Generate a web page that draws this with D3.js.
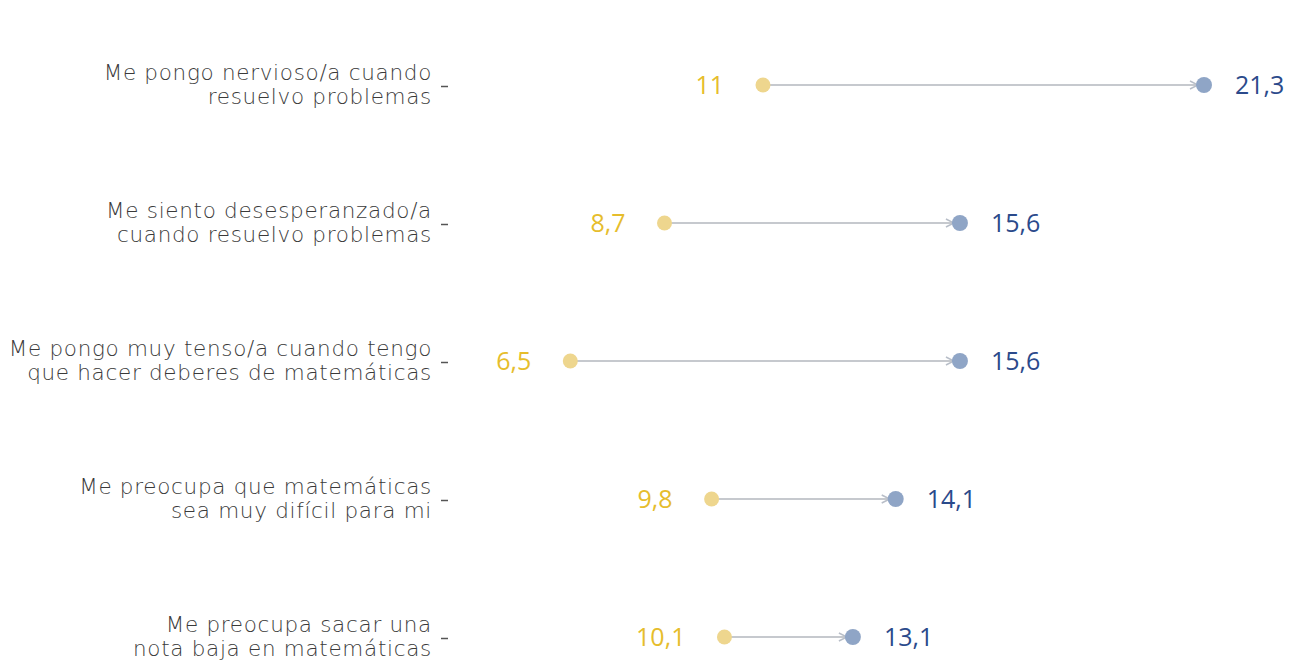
<!DOCTYPE html>
<html><head><meta charset="utf-8">
<script src="https://cdn.jsdelivr.net/npm/d3@7"></script>
<style>body{margin:0;background:#fff;} text{font-family:"Open Sans",sans-serif;}</style>
</head><body>
<svg id="c" width="1298" height="671"></svg>
<script>
const categories = [
  ["Me pongo nervioso/a cuando", "resuelvo problemas"],
  ["Me siento desesperanzado/a", "cuando resuelvo problemas"],
  ["Me pongo muy tenso/a cuando tengo", "que hacer deberes de matemáticas"],
  ["Me preocupa que matemáticas", "sea muy difícil para mi"],
  ["Me preocupa sacar una", "nota baja en matemáticas"]
];
const startValues = [11, 8.7, 6.5, 9.8, 10.1];
const endValues = [21.3, 15.6, 15.6, 14.1, 13.1];
const startLabels = ["11", "8,7", "6,5", "9,8", "10,1"];
const endLabels = ["21,3", "15,6", "15,6", "14,1", "13,1"];

const svg = d3.select("#c");
const x = d3.scaleLinear().domain([0, 21.3]).range([292, 1204]);
const ids = categories.map((d, i) => i);
const y = d3.scalePoint().domain(ids).range([85, 637]);

svg.append("defs").append("marker")
  .attr("id", "arr").attr("viewBox", "0 0 10 10").attr("refX", 9).attr("refY", 5)
  .attr("markerWidth", 10).attr("markerHeight", 10).attr("markerUnits", "userSpaceOnUse")
  .attr("orient", "auto")
  .append("path").attr("d", "M1,1 L9,5 L1,9").attr("fill", "none").attr("stroke", "#b8bec8").attr("stroke-width", 1.5);

// axis with labels
const axis = d3.axisLeft(y).tickSize(7).tickPadding(8).tickFormat(() => "");
const gAxis = svg.append("g").attr("transform", "translate(448,1)").call(axis);
gAxis.select(".domain").remove();
gAxis.selectAll(".tick line").attr("stroke", "#555").attr("stroke-width", 1.5);
gAxis.selectAll(".tick").each(function(d) {
  const t = d3.select(this).select("text")
    .attr("x", -16).attr("y", 0).attr("dy", null).attr("text-anchor", "end").attr("fill", "#3a3a3a")
    .style("font-family", "'DejaVu Sans', sans-serif")
    .style("font-size", "21.5px").style("font-weight", 200).style("letter-spacing", "0.7px");
  t.text(null);
  t.append("tspan").attr("x", -16).attr("y", -7).text(categories[d][0]);
  t.append("tspan").attr("x", -16).attr("y", 17).text(categories[d][1]);
});

const rows = svg.append("g").selectAll("g").data(ids).join("g");
rows.append("line")
  .attr("x1", i => x(startValues[i]) + 6).attr("x2", i => x(endValues[i]) - 6)
  .attr("y1", i => y(i)).attr("y2", i => y(i))
  .attr("stroke", "#c6c9ce").attr("stroke-width", 2).attr("marker-end", "url(#arr)");
rows.append("circle").attr("cx", i => x(startValues[i])).attr("cy", i => y(i)).attr("r", 7.5)
  .attr("fill", "#eed68e");
rows.append("circle").attr("cx", i => x(endValues[i])).attr("cy", i => y(i)).attr("r", 8)
  .attr("fill", "#8fa5c6");
rows.append("text").attr("x", i => x(startValues[i]) - 39).attr("y", i => y(i)).attr("dy", "0.36em")
  .attr("text-anchor", "end").attr("fill", "#e6bd2c").style("font-size", "25px")
  .text(i => startLabels[i]);
rows.append("text").attr("x", i => x(endValues[i]) + 31).attr("y", i => y(i)).attr("dy", "0.36em")
  .attr("text-anchor", "start").attr("fill", "#2b4a8b").style("font-size", "25px")
  .text(i => endLabels[i]);
</script>
</body></html>
